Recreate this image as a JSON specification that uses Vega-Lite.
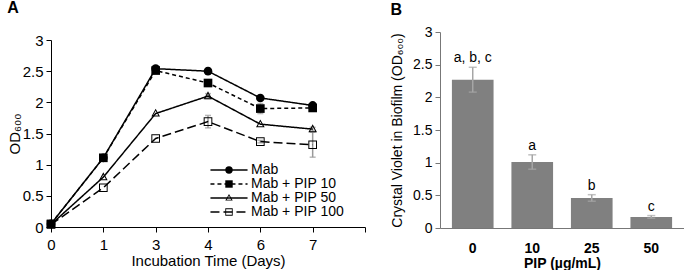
{
  "$schema": "https://vega.github.io/schema/vega-lite/v6.json",
  "background": "white",
  "padding": {"left": 7, "top": 0, "right": 0, "bottom": 0},
  "spacing": 24,
  "config": {
    "font": "Liberation Sans",
    "view": {"stroke": null},
    "axis": {"grid": false, "labelColor": "black", "titleColor": "black", "titleFontWeight": "normal"}
  },
  "hconcat": [
    {
      "title": {"text": "A", "anchor": "start", "frame": "bounds", "fontSize": 16, "fontWeight": "bold", "offset": 16},
      "width": 314,
      "height": 195,
      "data": {
        "values": [
          {"series": "Mab", "day": 0, "od": 0.05, "sd": 0},
          {"series": "Mab", "day": 1, "od": 1.11, "sd": 0},
          {"series": "Mab", "day": 3, "od": 2.54, "sd": 0},
          {"series": "Mab", "day": 4, "od": 2.50, "sd": 0},
          {"series": "Mab", "day": 6, "od": 2.07, "sd": 0},
          {"series": "Mab", "day": 7, "od": 1.95, "sd": 0.03},
          {"series": "Mab + PIP 10", "day": 0, "od": 0.05, "sd": 0},
          {"series": "Mab + PIP 10", "day": 1, "od": 1.11, "sd": 0},
          {"series": "Mab + PIP 10", "day": 3, "od": 2.51, "sd": 0},
          {"series": "Mab + PIP 10", "day": 4, "od": 2.31, "sd": 0.03},
          {"series": "Mab + PIP 10", "day": 6, "od": 1.90, "sd": 0.08},
          {"series": "Mab + PIP 10", "day": 7, "od": 1.91, "sd": 0},
          {"series": "Mab + PIP 50", "day": 0, "od": 0.04, "sd": 0},
          {"series": "Mab + PIP 50", "day": 1, "od": 0.80, "sd": 0},
          {"series": "Mab + PIP 50", "day": 3, "od": 1.82, "sd": 0},
          {"series": "Mab + PIP 50", "day": 4, "od": 2.10, "sd": 0.04},
          {"series": "Mab + PIP 50", "day": 6, "od": 1.65, "sd": 0},
          {"series": "Mab + PIP 50", "day": 7, "od": 1.57, "sd": 0.03},
          {"series": "Mab + PIP 100", "day": 0, "od": 0.04, "sd": 0},
          {"series": "Mab + PIP 100", "day": 1, "od": 0.63, "sd": 0},
          {"series": "Mab + PIP 100", "day": 3, "od": 1.42, "sd": 0},
          {"series": "Mab + PIP 100", "day": 4, "od": 1.69, "sd": 0.1},
          {"series": "Mab + PIP 100", "day": 6, "od": 1.37, "sd": 0.02},
          {"series": "Mab + PIP 100", "day": 7, "od": 1.32, "sd": 0.2}
        ]
      },
      "encoding": {
        "x": {
          "field": "day", "type": "ordinal",
          "scale": {"type": "point", "domain": [0, 1, 3, 4, 6, 7, 8], "padding": 0},
          "axis": {
            "title": "Incubation Time (Days)", "labelAngle": 0,
            "labelExpr": "datum.value == 8 ? '' : datum.label",
            "labelFontSize": 15, "titleFontSize": 15, "labelPadding": 5, "titlePadding": 1,
            "tickSize": 5, "domainColor": "black", "tickColor": "black"
          }
        },
        "y": {
          "field": "od", "type": "quantitative", "title": "OD₆₀₀",
          "scale": {"domain": [0, 3], "range": [195, 8], "nice": false},
          "axis": {
            "values": [0, 0.5, 1, 1.5, 2, 2.5, 3], "format": "~g",
            "labelFontSize": 15, "titleFontSize": 15, "tickSize": 5, "labelPadding": 3, "titlePadding": 0,
            "domainColor": "black", "tickColor": "black"
          }
        }
      },
      "layer": [
        {
          "transform": [{"filter": "datum.sd > 0"}],
          "mark": {"type": "errorbar", "ticks": {"size": 6}, "color": "#9a9a9a", "thickness": 1.5},
          "encoding": {"yError": {"field": "sd"}}
        },
        {
          "mark": {"type": "line", "color": "black", "strokeWidth": 1.5},
          "encoding": {
            "strokeDash": {
              "field": "series", "type": "nominal",
              "sort": ["Mab", "Mab + PIP 10", "Mab + PIP 50", "Mab + PIP 100"],
              "scale": {"range": [[1, 0], [4, 3], [1, 0], [9, 4]]},
              "legend": {
                "orient": "none", "legendX": 171, "legendY": 131, "title": null, "padding": 0,
                "symbolType": "M-5,0H5", "symbolSize": 55, "symbolStrokeWidth": 1.5, "symbolStrokeColor": "black",
                "labelFontSize": 14, "labelColor": "black", "labelOffset": 15, "rowPadding": 0
              }
            }
          }
        },
        {
          "mark": {"type": "point", "filled": true, "color": "black", "strokeWidth": 0, "opacity": 1, "size": 75},
          "encoding": {
            "shape": {
              "field": "series", "type": "nominal",
              "scale": {
                "domain": ["Mab", "Mab + PIP 10", "Mab + PIP 50", "Mab + PIP 100"],
                "range": [
                  "circle",
                  "square",
                  "M0,-1.1L1,0.7L-1,0.7Z M0,-0.62L-0.6,0.47L0.6,0.47Z",
                  "M-1,-1H1V1H-1Z M-0.77,-0.77V0.77H0.77V-0.77Z"
                ]
              },
              "legend": {
                "orient": "none", "legendX": 171, "legendY": 131, "title": null, "padding": 0,
                "symbolSize": 55, "symbolFillColor": "black", "symbolStrokeWidth": 0,
                "labelFontSize": 14, "labelOpacity": 0, "labelOffset": 15, "rowPadding": 0
              }
            }
          }
        }
      ]
    },
    {
      "title": {"text": "B", "anchor": "start", "frame": "bounds", "fontSize": 16, "fontWeight": "bold", "offset": 7},
      "width": 244,
      "height": 196,
      "data": {
        "values": [
          {"pip": "0", "cv": 2.27, "sd": 0.19, "group": "a, b, c"},
          {"pip": "10", "cv": 1.01, "sd": 0.11, "group": "a"},
          {"pip": "25", "cv": 0.46, "sd": 0.05, "group": "b"},
          {"pip": "50", "cv": 0.17, "sd": 0.02, "group": "c"}
        ]
      },
      "encoding": {
        "x": {
          "field": "pip", "type": "ordinal",
          "scale": {"domain": ["0", "10", "25", "50"], "paddingInner": 0.3, "paddingOuter": 0.2},
          "axis": {
            "title": "PIP (µg/mL)", "labelAngle": 0, "ticks": false,
            "labelFontSize": 14, "labelFontWeight": "bold", "titleFontSize": 14, "titleFontWeight": "bold",
            "labelPadding": 13, "titlePadding": 1, "domainColor": "#777777"
          }
        },
        "y": {
          "field": "cv", "type": "quantitative", "title": "Crystal Violet in Biofilm (OD₆₀₀)",
          "scale": {"domain": [0, 3], "nice": false},
          "axis": {
            "values": [0, 0.5, 1, 1.5, 2, 2.5, 3], "format": "~g",
            "labelFontSize": 14, "titleFontSize": 14, "tickSize": 5, "labelPadding": 3, "titlePadding": 8,
            "domainColor": "#777777", "tickColor": "#777777"
          }
        }
      },
      "layer": [
        {"mark": {"type": "bar", "color": "#808080"}},
        {
          "mark": {"type": "errorbar", "ticks": {"size": 8}, "color": "#a6a6a6", "thickness": 1.5},
          "encoding": {"yError": {"field": "sd"}}
        },
        {
          "transform": [{"calculate": "datum.cv + datum.sd", "as": "top"}],
          "mark": {"type": "text", "fontSize": 14, "baseline": "alphabetic", "dy": -5, "color": "black"},
          "encoding": {
            "y": {
              "field": "top", "type": "quantitative", "title": "Crystal Violet in Biofilm (OD₆₀₀)",
              "axis": {
                "values": [0, 0.5, 1, 1.5, 2, 2.5, 3], "format": "~g",
                "labelFontSize": 14, "titleFontSize": 14, "tickSize": 5, "labelPadding": 3, "titlePadding": 8,
                "domainColor": "#777777", "tickColor": "#777777"
              }
            },
            "text": {"field": "group"}
          }
        },
        {
          "data": {"values": [{"note": "MBIC"}]},
          "mark": {"type": "text", "fontSize": 13, "fontWeight": "bold", "align": "left", "baseline": "middle", "dx": 4, "color": "black"},
          "encoding": {
            "x": {"datum": "25"},
            "y": {
              "datum": 3, "title": "Crystal Violet in Biofilm (OD₆₀₀)",
              "axis": {
                "values": [0, 0.5, 1, 1.5, 2, 2.5, 3], "format": "~g",
                "labelFontSize": 14, "titleFontSize": 14, "tickSize": 5, "labelPadding": 3, "titlePadding": 8,
                "domainColor": "#777777", "tickColor": "#777777"
              }
            },
            "text": {"field": "note"}
          }
        }
      ]
    }
  ]
}
